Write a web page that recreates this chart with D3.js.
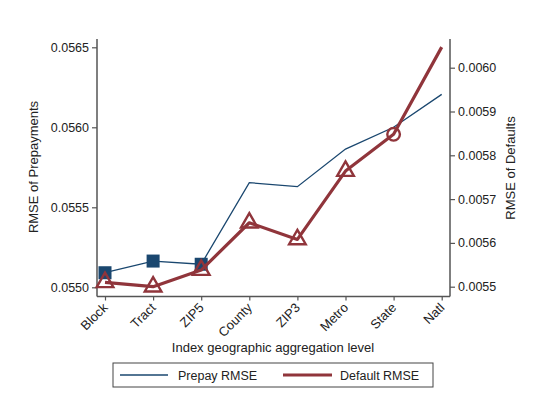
<!DOCTYPE html>
<html><head><meta charset="utf-8">
<script src="https://cdn.jsdelivr.net/npm/d3@7"></script>
<style>body{margin:0;background:#fff;}svg{font-family:"Liberation Sans",Arial,sans-serif;}</style>
</head><body><svg id="c" width="549" height="406"></svg>
<script>
const categories = ["Block","Tract","ZIP5","County","ZIP3","Metro","State","Natl"];
const prepayValues = [0.055091,0.055164,0.055144,0.055654,0.055629,0.055864,0.056000,0.056206];
const defaultValues = [0.005510,0.005500,0.005538,0.005646,0.005608,0.005764,0.005848,0.006047];
const prepayMarkers = ["square","square","square",null,null,null,null,null];
const defaultMarkers = ["triangle","triangle","triangle","triangle","triangle","triangle","circle",null];
const leftTicks = [0.0550,0.0555,0.0560,0.0565];
const rightTicks = [0.0055,0.0056,0.0057,0.0058,0.0059,0.0060];
const seriesNames = ["Prepay RMSE","Default RMSE"];

const svg = d3.select("#c");
const L=97, R=450, T=39, B=296.5;
const axisCol="#555", textCol="#222";
const navy="#1a476f", maroon="#90353b";

const x = d3.scalePoint().domain(categories).range([105,441.7]);
const yL = d3.scaleLinear().domain([0.0550,0.0565]).range([287.3,47.3]);
const yR = d3.scaleLinear().domain([0.0055,0.0060]).range([286.7,67.7]);

function styleAxis(g){
  g.select(".domain").attr("stroke",axisCol).attr("stroke-width",1.5);
  g.selectAll(".tick line").attr("stroke",axisCol).attr("stroke-width",1.2);
  g.selectAll(".tick text").attr("fill",textCol).attr("font-size",12.5);
}
const gl = svg.append("g").attr("transform",`translate(${L},0)`)
  .call(d3.axisLeft(yL).tickValues(leftTicks).tickFormat(d3.format(".4f")).tickSize(5).tickSizeOuter(0));
gl.select(".domain").attr("d",`M0,${T}V${B}`);
styleAxis(gl);
const gr = svg.append("g").attr("transform",`translate(${R},0)`)
  .call(d3.axisRight(yR).tickValues(rightTicks).tickFormat(d3.format(".4f")).tickSize(5).tickSizeOuter(0));
gr.select(".domain").attr("d",`M0,${T}V${B}`);
styleAxis(gr);
const gb = svg.append("g").attr("transform",`translate(0,${B})`)
  .call(d3.axisBottom(x).tickSize(4).tickSizeOuter(0));
gb.select(".domain").attr("d",`M${L},0H${R}`);
styleAxis(gb);
gb.selectAll(".tick text").attr("text-anchor","end").attr("dy",0).attr("y",0).attr("font-size",13)
  .attr("transform","translate(3,12) rotate(-45)");

svg.append("text").attr("x",273).attr("y",352).attr("text-anchor","middle").attr("font-size",13).attr("fill",textCol).text("Index geographic aggregation level");
svg.append("text").attr("transform","translate(38,167) rotate(-90)").attr("text-anchor","middle").attr("font-size",13).attr("fill",textCol).text("RMSE of Prepayments");
svg.append("text").attr("transform","translate(515,168) rotate(-90)").attr("text-anchor","middle").attr("font-size",13).attr("fill",textCol).text("RMSE of Defaults");

const prepayData = categories.map((c,i)=>({c,v:prepayValues[i],m:prepayMarkers[i]}));
const defaultData = categories.map((c,i)=>({c,v:defaultValues[i],m:defaultMarkers[i]}));
svg.append("path").datum(prepayData).attr("fill","none").attr("stroke",navy).attr("stroke-width",1.3)
  .attr("d",d3.line().x(d=>x(d.c)).y(d=>yL(d.v)));
svg.selectAll(".sq").data(prepayData.filter(d=>d.m==="square")).join("rect")
  .attr("x",d=>x(d.c)-6.5).attr("y",d=>yL(d.v)-6.5).attr("width",13).attr("height",13).attr("fill",navy);
svg.append("path").datum(defaultData).attr("fill","none").attr("stroke",maroon).attr("stroke-width",3.2)
  .attr("stroke-linejoin","round").attr("d",d3.line().x(d=>x(d.c)).y(d=>yR(d.v)));
const tri = d3.symbol().type(d3.symbolTriangle).size(120);
svg.selectAll(".tri").data(defaultData.filter(d=>d.m==="triangle")).join("path")
  .attr("transform",d=>`translate(${x(d.c)},${yR(d.v)})`).attr("d",tri)
  .attr("fill","none").attr("stroke",maroon).attr("stroke-width",2.4);
svg.selectAll(".circ").data(defaultData.filter(d=>d.m==="circle")).join("circle")
  .attr("cx",d=>x(d.c)).attr("cy",d=>yR(d.v)).attr("r",6.3)
  .attr("fill","none").attr("stroke",maroon).attr("stroke-width",2.4);

svg.append("rect").attr("x",113).attr("y",363).attr("width",320).attr("height",24).attr("fill","#fff").attr("stroke","#444").attr("stroke-width",1);
const lg = [{x1:120,x2:168,tx:178,c:navy,w:1.3,t:seriesNames[0]},{x1:283,x2:332,tx:340,c:maroon,w:3.2,t:seriesNames[1]}];
lg.forEach(d=>{
  svg.append("line").attr("x1",d.x1).attr("x2",d.x2).attr("y1",375).attr("y2",375).attr("stroke",d.c).attr("stroke-width",d.w);
  svg.append("text").attr("x",d.tx).attr("y",379.5).attr("font-size",12.5).attr("fill",textCol).text(d.t);
});
</script></body></html>
